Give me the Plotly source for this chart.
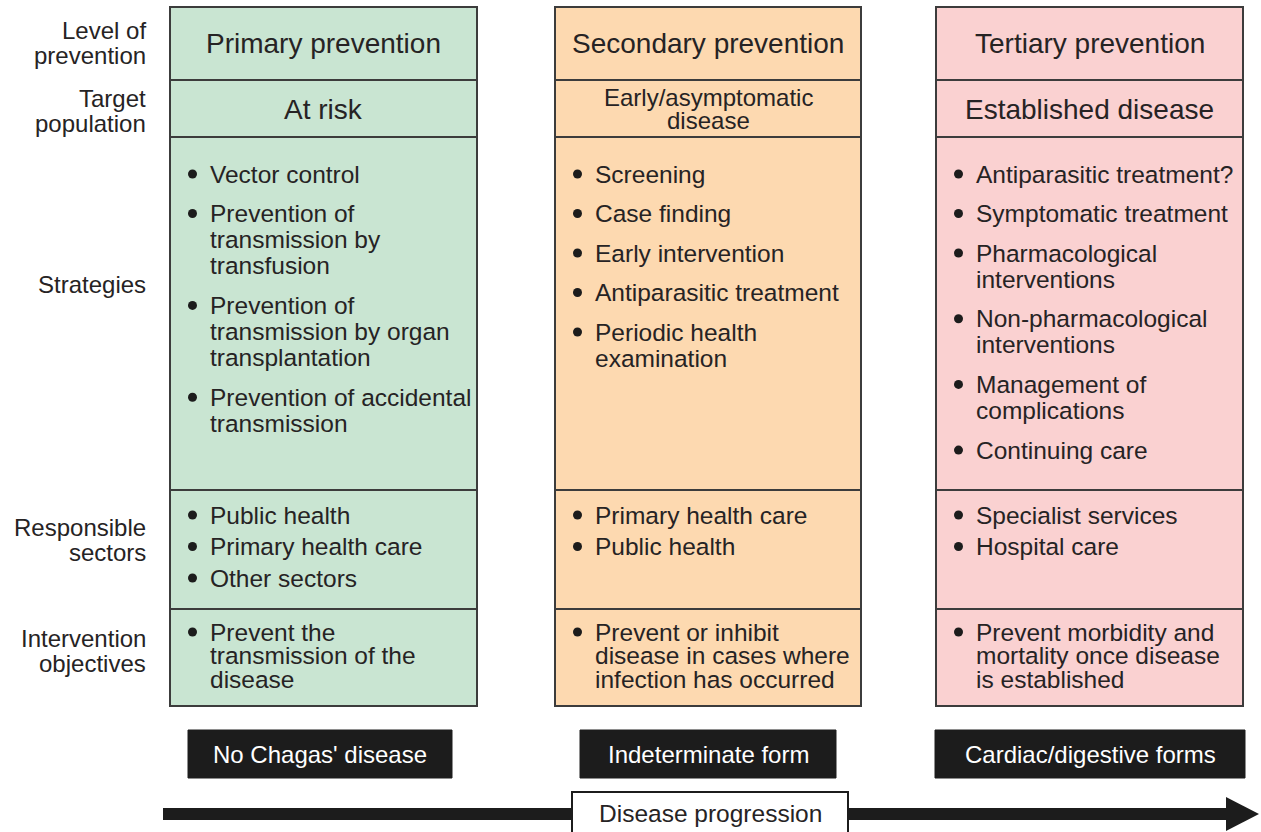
import plotly.graph_objects as go

# ---------------- data ----------------
row_labels = [["Level of", "prevention"], ["Target", "population"], ["Strategies"],
              ["Responsible", "sectors"], ["Intervention", "objectives"]]
levels = ["Primary prevention", "Secondary prevention", "Tertiary prevention"]
targets = [["At risk"], ["Early/asymptomatic", "disease"], ["Established disease"]]
strategies = [
    [["Vector control"],
     ["Prevention of", "transmission by", "transfusion"],
     ["Prevention of", "transmission by organ", "transplantation"],
     ["Prevention of accidental", "transmission"]],
    [["Screening"], ["Case finding"], ["Early intervention"],
     ["Antiparasitic treatment"], ["Periodic health", "examination"]],
    [["Antiparasitic treatment?"], ["Symptomatic treatment"],
     ["Pharmacological", "interventions"], ["Non-pharmacological", "interventions"],
     ["Management of", "complications"], ["Continuing care"]],
]
sectors = [
    [["Public health"], ["Primary health care"], ["Other sectors"]],
    [["Primary health care"], ["Public health"]],
    [["Specialist services"], ["Hospital care"]],
]
objectives = [
    [["Prevent the", "transmission of the", "disease"]],
    [["Prevent or inhibit", "disease in cases where", "infection has occurred"]],
    [["Prevent morbidity and", "mortality once disease", "is established"]],
]
stages = ["No Chagas' disease", "Indeterminate form", "Cardiac/digestive forms"]
progression_label = "Disease progression"
col_colors = ["#c9e5d2", "#fdd9b0", "#fad1d1"]

# ---------------- layout constants ----------------
W, H = 1261, 832
COL_X = [(170, 477), (555, 861), (936, 1243)]
ROW_Y = [7, 80, 137, 490, 609, 706]
LABEL_CENTERS = [43, 111, 284, 540, 651]
STAGE_X = [(188, 452), (580, 836), (935, 1245)]
STAGE_Y = (730, 778)
TXT = "#262324"
BORDER = "#3c3c3c"
FONT = "Liberation Sans, Arial, sans-serif"

fig = go.Figure()
shapes, annos = [], []


def text(x, y, s, size, color=TXT, xanchor="left"):
    annos.append(dict(x=x, y=y, xref="x", yref="y", text=s, showarrow=False,
                      xanchor=xanchor, yanchor="middle",
                      font=dict(family=FONT, size=size, color=color)))


def lines_at(x, yc, lines, size, lh, xanchor):
    n = len(lines)
    for i, ln in enumerate(lines):
        text(x, yc + (i - (n - 1) / 2) * lh, ln, size, xanchor=xanchor)


# row labels
for lines, yc in zip(row_labels, LABEL_CENTERS):
    lines_at(148, yc, lines, 24, 25, "right")

# columns
for c, (x0, x1) in enumerate(COL_X):
    for r in range(5):
        shapes.append(dict(type="rect", xref="x", yref="y", x0=x0, x1=x1,
                           y0=ROW_Y[r], y1=ROW_Y[r + 1], fillcolor=col_colors[c],
                           line=dict(color=BORDER, width=2), layer="below"))
    xm = (x0 + x1) / 2
    text(xm, 43, levels[c], 28, xanchor="center")
    if len(targets[c]) == 1:
        text(xm, 109, targets[c][0], 28, xanchor="center")
    else:
        lines_at(xm, 108.5, targets[c], 24, 23, "center")

    def bullets(items, y0, lh, gap):
        y = y0
        for item in items:
            shapes.append(dict(type="circle", xref="x", yref="y",
                               x0=x0 + 18, x1=x0 + 27, y0=y - 4.5, y1=y + 4.5,
                               fillcolor="#1c1c1c", line=dict(width=0)))
            for ln in item:
                text(x0 + 38, y, ln, 24.5)
                y += lh
            y += gap

    bullets(strategies[c], 174, 26.2, 13.3)
    bullets(sectors[c], 515, 26, 5.5)
    bullets(objectives[c], 632, 23.5, 0)

# stage boxes
for (x0, x1), s in zip(STAGE_X, stages):
    shapes.append(dict(type="rect", xref="x", yref="y", x0=x0, x1=x1,
                       y0=STAGE_Y[0], y1=STAGE_Y[1], fillcolor="#1c1c1c",
                       line=dict(color="#1c1c1c", width=1)))
    text((x0 + x1) / 2, (STAGE_Y[0] + STAGE_Y[1]) / 2, s, 24, color="white",
         xanchor="center")

# progression arrow
shapes.append(dict(type="rect", xref="x", yref="y", x0=163, x1=1230, y0=808, y1=820,
                   fillcolor="#1c1c1c", line=dict(width=0)))
shapes.append(dict(type="path", xref="x", yref="y",
                   path="M 1226 797 L 1259 814 L 1226 831 Z",
                   fillcolor="#1c1c1c", line=dict(width=0)))
shapes.append(dict(type="rect", xref="x", yref="y", x0=572, x1=848, y0=792, y1=840,
                   fillcolor="white", line=dict(color="#1c1c1c", width=2)))
text(710, 813, progression_label, 24.5, xanchor="center")

fig.update_layout(
    shapes=shapes, annotations=annos,
    width=W, height=H, autosize=False,
    margin=dict(l=0, r=0, t=0, b=0),
    paper_bgcolor="white", plot_bgcolor="white",
    xaxis=dict(range=[0, W], visible=False, fixedrange=True),
    yaxis=dict(range=[H, 0], visible=False, fixedrange=True),
    showlegend=False,
)
fig.write_html("out.html",
               config={"displayModeBar": False},
               post_script="document.body.style.margin='0';"
                           "document.body.style.overflow='hidden';")
